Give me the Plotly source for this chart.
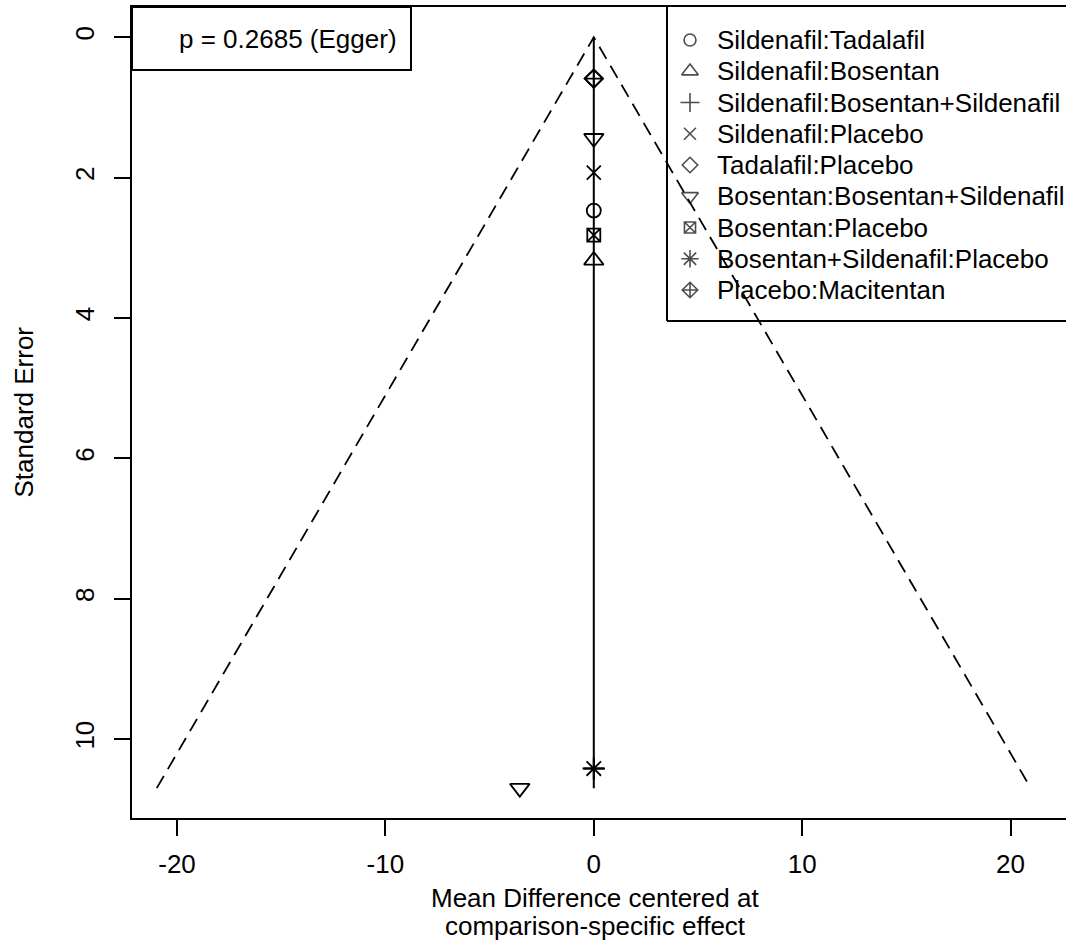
import plotly.graph_objects as go

# ---------------- data ----------------
comparisons = [
    "Sildenafil:Tadalafil",
    "Sildenafil:Bosentan",
    "Sildenafil:Bosentan+Sildenafil",
    "Sildenafil:Placebo",
    "Tadalafil:Placebo",
    "Bosentan:Bosentan+Sildenafil",
    "Bosentan:Placebo",
    "Bosentan+Sildenafil:Placebo",
    "Placebo:Macitentan",
]
symbols = [
    "circle-open", "triangle-up-open", "cross-thin-open", "x-thin-open",
    "diamond-open", "triangle-down-open", "square-x-open", "asterisk-open",
    "diamond-cross-open",
]
sizes = [14, 17, 16, 14, 14, 17, 13, 17, 14]
# centered mean differences and standard errors per comparison
centered_md = [[0], [0], [0], [0], [0], [0, -3.55], [0], [0], [0]]
std_err = [[2.47], [3.18], [10.42], [1.93], [0.59], [1.44, 10.70], [2.82], [10.42], [0.59]]

se_max = 10.70
z = 1.96
egger_text = "p = 0.2685 (Egger)"
x_ticks = [-20, -10, 0, 10, 20]
x_tick_labels = ["-20", "-10", "0", "10", "20"]
y_ticks = [0, 2, 4, 6, 8, 10]

FONT = "Liberation Sans, Arial, Helvetica, sans-serif"
FS = 26

fig = go.Figure()

# funnel (pseudo confidence region)
fig.add_trace(go.Scatter(
    x=[-z * se_max, 0, z * se_max], y=[se_max, 0, se_max], mode="lines",
    line=dict(color="black", width=1.8, dash="14px,8px"), showlegend=False, hoverinfo="skip"))
# reference line at 0
fig.add_trace(go.Scatter(
    x=[0, 0], y=[0, se_max], mode="lines",
    line=dict(color="black", width=2), showlegend=False, hoverinfo="skip"))

for name, sym, sz, xs, ys in zip(comparisons, symbols, sizes, centered_md, std_err):
    fig.add_trace(go.Scatter(
        x=xs, y=ys, mode="markers", name=name, showlegend=False,
        marker=dict(symbol=sym, size=sz, color="black", line=dict(color="black", width=1.8))))

# ---------------- manual legend (paper coords) ----------------
W, H = 1066, 947
ML, MR, MT, MB = 132, 0, 7, 129
PW, PH = W - ML - MR, H - MT - MB

def px(xp):
    return (xp - ML) / PW

def py(yp):
    return (H - MB - yp) / PH

leg_left, leg_bottom = 667, 321
sym_x, txt_x = 690, 715
row0, row_step = 40, 31.25

leg_y = [py(row0 + i * row_step) for i in range(len(comparisons))]
fig.add_trace(go.Scatter(
    x=[px(sym_x)] * len(comparisons), y=leg_y, mode="markers",
    xaxis="x2", yaxis="y2", showlegend=False, hoverinfo="skip",
    marker=dict(symbol=symbols, size=[s * 0.85 for s in sizes], color="black",
                line=dict(color="black", width=1.6))))

line_style = dict(color="black", width=2)
shapes = [
    # legend box (its right side lies beyond the visible area)
    dict(type="line", xref="paper", yref="paper", x0=px(leg_left), x1=px(leg_left),
         y0=py(leg_bottom), y1=1, line=line_style),
    dict(type="line", xref="paper", yref="paper", x0=px(leg_left), x1=1.0,
         y0=py(leg_bottom), y1=py(leg_bottom), line=line_style),
    # Egger box
    dict(type="rect", xref="paper", yref="paper", x0=0, x1=px(411),
         y0=py(70), y1=1, line=line_style, fillcolor="rgba(0,0,0,0)"),
]

annotations = []
for name, yv in zip(comparisons, leg_y):
    annotations.append(dict(text=name, xref="paper", yref="paper", x=px(txt_x), y=yv,
                            xanchor="left", yanchor="middle", showarrow=False,
                            font=dict(family=FONT, size=FS, color="black")))
annotations.append(dict(text=egger_text, xref="paper", yref="paper", x=px(288), y=py(39),
                        xanchor="center", yanchor="middle", showarrow=False,
                        font=dict(family=FONT, size=FS, color="black")))
annotations.append(dict(text="Mean Difference centered at", xref="paper", yref="paper",
                        x=px(595), y=py(898), xanchor="center", yanchor="middle", showarrow=False,
                        font=dict(family=FONT, size=FS, color="black")))
annotations.append(dict(text="comparison-specific effect", xref="paper", yref="paper",
                        x=px(595), y=py(926), xanchor="center", yanchor="middle", showarrow=False,
                        font=dict(family=FONT, size=FS, color="black")))
annotations.append(dict(text="Standard Error", xref="paper", yref="paper",
                        x=px(23), y=0.5, xanchor="center", yanchor="middle", textangle=-90,
                        showarrow=False, font=dict(family=FONT, size=FS, color="black")))

fig.update_layout(
    width=W, height=H,
    margin=dict(l=ML, r=MR, t=MT, b=MB),
    paper_bgcolor="white", plot_bgcolor="white",
    font=dict(family=FONT, size=FS, color="black"),
    showlegend=False,
    shapes=shapes, annotations=annotations,
    xaxis=dict(range=[-22.16, 22.66], tickvals=x_ticks, ticktext=x_tick_labels,
               ticks="outside", ticklen=16,
               tickwidth=2, tickcolor="black", showline=True, mirror=True, linecolor="black",
               linewidth=2, showgrid=False, zeroline=False, ticklabelstandoff=6,
               tickfont=dict(family=FONT, size=FS, color="black")),
    yaxis=dict(range=[11.125, -0.43], tickvals=y_ticks, ticks="outside", ticklen=16,
               tickwidth=2, tickcolor="black", showline=True, mirror=False, linecolor="black",
               linewidth=2, showgrid=False, zeroline=False, tickangle=-90, ticklabelstandoff=10,
               tickfont=dict(family=FONT, size=FS, color="black")),
    xaxis2=dict(range=[0, 1], overlaying="x", anchor="y2", visible=False, fixedrange=True),
    yaxis2=dict(range=[0, 1], overlaying="y", anchor="x2", visible=False, fixedrange=True),
)

fig.write_html("out.html", config={"displayModeBar": False},
               post_script="document.body.style.margin='0';document.body.style.overflow='hidden';")
